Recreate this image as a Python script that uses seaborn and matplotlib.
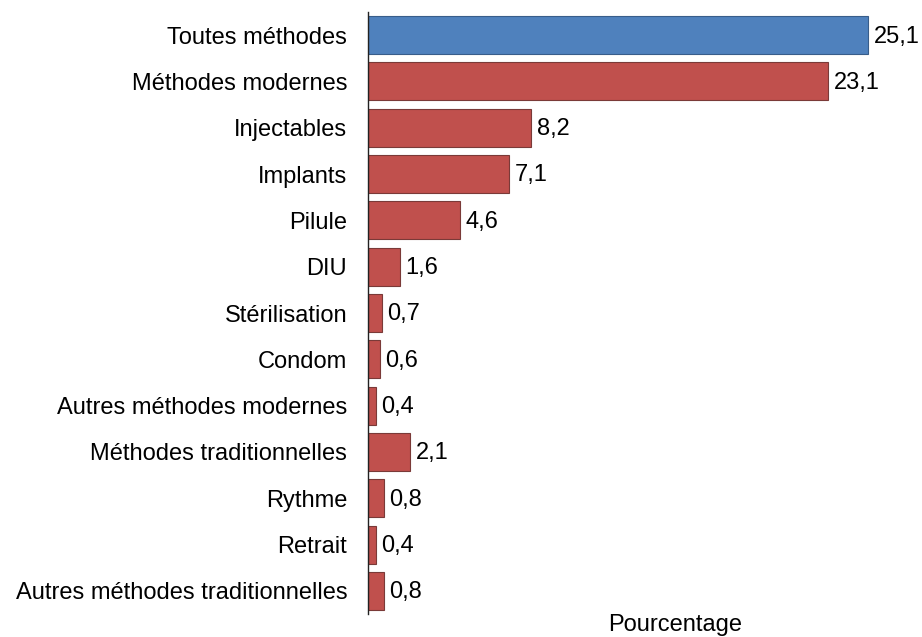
import pandas as pd
import matplotlib.pyplot as plt
import seaborn as sns

sns.set_style("white")
plt.rcParams['font.family'] = ['Liberation Sans', 'DejaVu Sans']
plt.rcParams['text.color'] = 'black'
plt.rcParams['ytick.color'] = 'black'
plt.rcParams['axes.labelcolor'] = 'black'

# Données
methodes = ['Toutes méthodes', 'Méthodes modernes', 'Injectables', 'Implants',
            'Pilule', 'DIU', 'Stérilisation', 'Condom', 'Autres méthodes modernes',
            'Méthodes traditionnelles', 'Rythme', 'Retrait',
            'Autres méthodes traditionnelles']
valeurs = [25.1, 23.1, 8.2, 7.1, 4.6, 1.6, 0.7, 0.6, 0.4, 2.1, 0.8, 0.4, 0.8]

df = pd.DataFrame({'methode': methodes, 'valeur': valeurs})
cores = ['#4F81BD'] + ['#C0504D'] * (len(methodes) - 1)

fig = plt.figure(figsize=(9.22, 6.37), dpi=100)
ax = fig.add_axes([368 / 922, 1 - 614 / 637, 542 / 922, 602 / 637])

sns.barplot(data=df, x='valeur', y='methode', hue='methode', palette=cores,
            saturation=1, legend=False, width=0.82, edgecolor='#7a3a38',
            linewidth=0.8, ax=ax)
ax.patches[0].set_edgecolor('#385d8a')

for p, v in zip(ax.patches, valeurs):
    ax.annotate(f"{v:.1f}".replace('.', ','),
                (p.get_width(), p.get_y() + p.get_height() / 2),
                xytext=(4, -1), textcoords='offset points',
                ha='left', va='center', fontsize=17)

ax.set_xlim(0, 542 / 19.92)
ax.set_ylim(12.5, -0.5)
ax.set_xticks([])
ax.set_ylabel('')
ax.set_xlabel('')
fig.text(675 / 922, 1 - 625 / 637, 'Pourcentage', fontsize=17,
         ha='center', va='center')
ax.tick_params(axis='y', labelsize=17, length=0, pad=15)
for s in ['top', 'right', 'bottom']:
    ax.spines[s].set_visible(False)
ax.spines['left'].set_color('#222222')
ax.spines['left'].set_linewidth(1)

fig.savefig('out.png', dpi=100)
